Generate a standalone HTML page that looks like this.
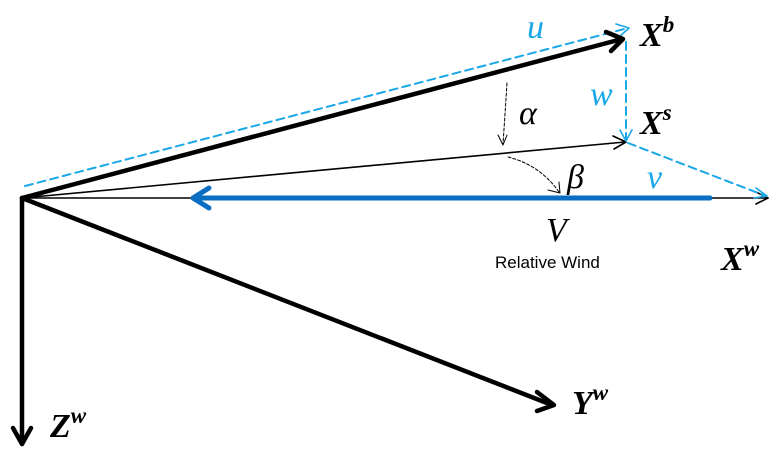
<!DOCTYPE html><html><head><style>body{margin:0;background:#fff}svg{display:block}
.m{font-family:"Liberation Serif",serif;font-style:italic;font-weight:bold}
</style></head><body>
<svg width="784" height="463" viewBox="0 0 784 463" xmlns="http://www.w3.org/2000/svg">
<g fill="none" stroke-linecap="round" stroke-linejoin="round">
<line x1="25" y1="186" x2="628" y2="28" stroke="#1aa7e8" stroke-width="2" stroke-dasharray="8,5"/>
<polyline points="616,24 629,28 619,37" stroke="#1aa7e8" stroke-width="1.6"/>
<line x1="22" y1="198" x2="622" y2="39" stroke="#000" stroke-width="4.5"/>
<polyline points="606,32 623,39 611,51" stroke="#000" stroke-width="4.5"/>
<line x1="22" y1="198" x2="625" y2="142" stroke="#000" stroke-width="1.6"/>
<polyline points="613,136 626,142 614,149" stroke="#000" stroke-width="1.6"/>
<line x1="22" y1="198" x2="768" y2="198" stroke="#000" stroke-width="1.6"/>
<polyline points="756,192 768,198 756,204" stroke="#000" stroke-width="1.6"/>
<line x1="626" y1="42" x2="626" y2="140" stroke="#1aa7e8" stroke-width="2" stroke-dasharray="8,5"/>
<polyline points="620,130 626,141 632,130" stroke="#1aa7e8" stroke-width="1.6"/>
<line x1="628" y1="143" x2="766" y2="196" stroke="#1aa7e8" stroke-width="2" stroke-dasharray="8,5"/>
<polyline points="756,188 767,196 754,198" stroke="#1aa7e8" stroke-width="1.6"/>
<line x1="710" y1="198" x2="195" y2="198" stroke="#0a6fc2" stroke-width="5"/>
<polyline points="209,188 193,198 209,208" stroke="#0a6fc2" stroke-width="5"/>
<line x1="22" y1="198" x2="552" y2="405" stroke="#000" stroke-width="4.5"/>
<polyline points="537,392 554,405 537,411" stroke="#000" stroke-width="4.5"/>
<line x1="22" y1="198" x2="22" y2="444" stroke="#000" stroke-width="4.5"/>
<polyline points="13,428 22,444 31,428" stroke="#000" stroke-width="4.5"/>
<path d="M507,83 Q505,115 503,144" stroke="#000" stroke-width="1" stroke-dasharray="3,2"/>
<polyline points="498,135 503,145 507,135" stroke="#000" stroke-width="1"/>
<path d="M508,157 Q540,165 559,192" stroke="#000" stroke-width="1" stroke-dasharray="3,2"/>
<polyline points="548,190 560,193 559,182" stroke="#000" stroke-width="1"/>
</g>
<g class="m" fill="#000">
<text x="640" y="46" font-size="34">X<tspan font-size="23" dy="-14">b</tspan></text>
<text x="640" y="134" font-size="34">X<tspan font-size="23" dy="-14">s</tspan></text>
<text x="721" y="270" font-size="34">X<tspan font-size="23" dy="-14">w</tspan></text>
<text x="572" y="414" font-size="34">Y<tspan font-size="23" dy="-14">w</tspan></text>
<text x="50" y="437" font-size="34">Z<tspan font-size="23" dy="-14">w</tspan></text>
</g>
<g font-family="Liberation Serif,serif" font-style="italic" font-size="34">
<text x="527" y="38" fill="#1aa7e8">u</text>
<text x="590" y="105" fill="#1aa7e8">w</text>
<text x="647" y="188" fill="#1aa7e8">v</text>
<text x="519" y="124" fill="#000">α</text>
<text x="567" y="188" fill="#000">β</text>
<text x="546" y="241" fill="#000">V</text>
</g>
<text x="495" y="268" font-family="Liberation Sans,sans-serif" font-size="17" fill="#000">Relative Wind</text>
</svg></body></html>
